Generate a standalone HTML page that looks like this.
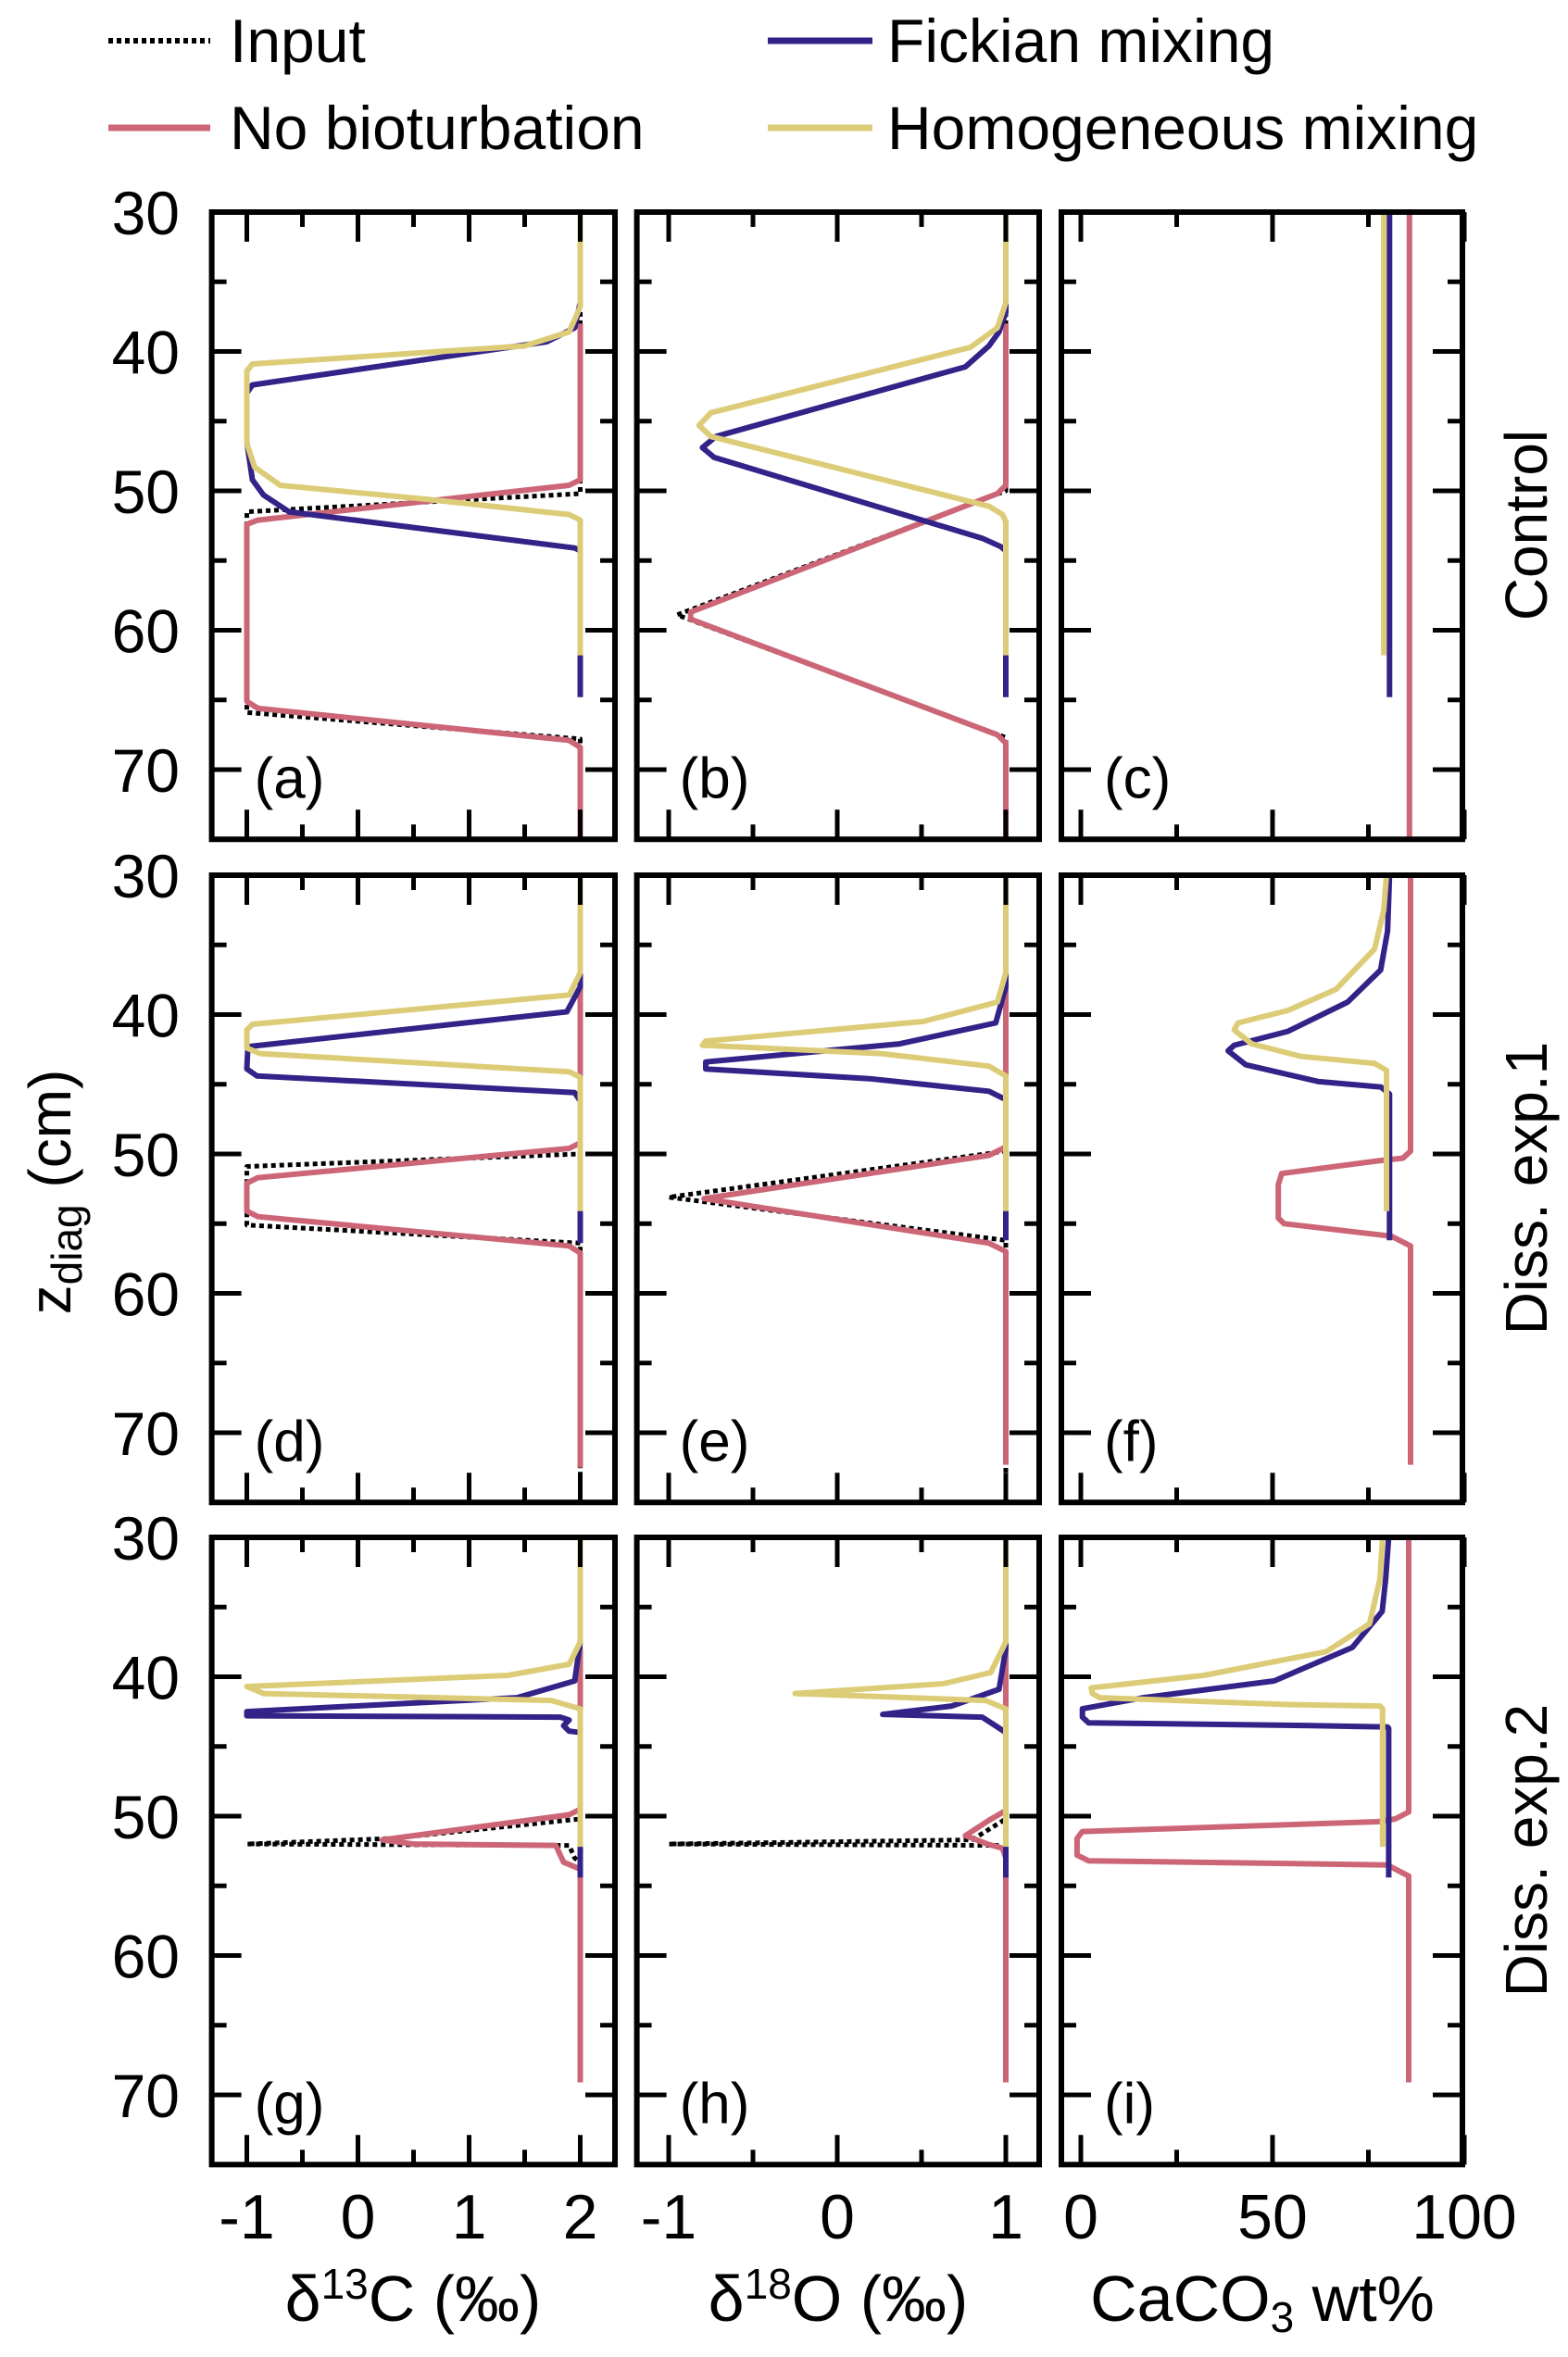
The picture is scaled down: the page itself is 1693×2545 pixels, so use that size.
<!DOCTYPE html>
<html><head><meta charset="utf-8">
<style>
html,body{margin:0;padding:0;background:#fff;}
svg{display:block;font-family:"Liberation Sans",Arial,sans-serif;}
</style></head>
<body>
<svg id="fig" width="1693" height="2545" viewBox="0 0 1693 2545" xmlns="http://www.w3.org/2000/svg">
<g font-size="66">
  <g>
    <line x1="117" y1="44" x2="227" y2="44" stroke="#000" stroke-width="6" stroke-dasharray="5 4"/>
    <text x="248" y="67">Input</text>
  </g>
  <g>
    <line x1="117" y1="138" x2="227" y2="138" stroke="#CC6677" stroke-width="7"/>
    <text x="248" y="161">No bioturbation</text>
  </g>
  <g>
    <line x1="829" y1="44" x2="942" y2="44" stroke="#332288" stroke-width="7"/>
    <text x="958" y="67">Fickian mixing</text>
  </g>
  <g>
    <line x1="829" y1="138" x2="942" y2="138" stroke="#DDCC77" stroke-width="7"/>
    <text x="958" y="161">Homogeneous mixing</text>
  </g>
</g>
<text transform="translate(76,1287) rotate(-90)" text-anchor="middle" font-size="64">z<tspan font-size="46" dy="12">diag</tspan><tspan dy="-12"> (cm)</tspan></text>
<text x="446" y="2506" text-anchor="middle" font-size="70">δ<tspan font-size="46" dy="-24">13</tspan><tspan dy="24">C (‰)</tspan></text>
<text x="905" y="2506" text-anchor="middle" font-size="70">δ<tspan font-size="46" dy="-24">18</tspan><tspan dy="24">O (‰)</tspan></text>
<text x="1363" y="2506" text-anchor="middle" font-size="70">CaCO<tspan font-size="46" dy="12">3</tspan><tspan dy="-12"> wt%</tspan></text>
<text transform="translate(1670,567) rotate(-90)" text-anchor="middle" font-size="64">Control</text>
<text transform="translate(1670,1283) rotate(-90)" text-anchor="middle" font-size="64">Diss. exp.1</text>
<text transform="translate(1670,1998) rotate(-90)" text-anchor="middle" font-size="64">Diss. exp.2</text>
<g id="panels"></g>
</svg>
<script>
// ---- data: [value, depth cm] ----
const aInput=[[2,30],[2,50.2],[-1,51.5],[-1,65.9],[2,67.8],[2,75]];
const aNoBio=[[2,38],[2,49.2],[1.9,49.6],[-0.9,52.1],[-1,52.4],[-1,65.1],[-0.9,65.6],[1.9,67.9],[2,68.4],[2,75]];
const aFick=[[2,30],[2,36.5],[1.95,38.3],[1.7,39.3],[-0.95,42.4],[-1,43],[-1,46.5],[-0.95,49.2],[-0.85,50.3],[-0.62,51.5],[1.95,54.1],[2,54.3],[2,64.8]];
const aHomo=[[2,30],[2,36.8],[1.9,38.6],[1.5,39.6],[-0.95,40.9],[-1,41.4],[-1,46.6],[-0.93,48.3],[-0.7,49.6],[0.61,50.6],[1.9,51.7],[2,52.1],[2,61.8]];

const bInput=[[1,30],[1,50.0],[-0.95,58.9],[1,67.7],[1,75]];
const bNoBio=[[1,38],[1,49.6],[0.95,50.2],[-0.87,58.7],[-0.87,59.2],[0.95,67.5],[1,68.1],[1,75]];
const bFick=[[1,30],[1,37.2],[0.96,38.6],[0.9,39.6],[0.76,41.1],[-0.72,46.1],[-0.8,46.9],[-0.73,47.6],[0.86,53.4],[0.97,54.0],[1,54.3],[1,64.8]];
const bHomo=[[1,30],[1,36.5],[0.95,38.3],[0.79,39.7],[-0.75,44.4],[-0.82,45.3],[-0.75,46.1],[0.9,51.1],[0.98,51.7],[1,52.2],[1,61.8]];

const cNoBio=[[85.7,30],[85.7,75]];
const cFick=[[80.5,30],[80.5,64.8]];
const cHomo=[[79,30],[79,61.8]];

const dInput=[[2,30],[2,50.0],[-1,50.9],[-1,55.1],[2,56.4],[2,75]];
const dNoBio=[[2,38],[2,49.2],[1.9,49.6],[-0.9,51.7],[-1,52.1],[-1,54.1],[-0.9,54.5],[1.9,56.6],[2,57.1],[2,72.5]];
const dFick=[[2,30],[2,38],[1.88,39.8],[-0.99,42.3],[-1,43.9],[-0.91,44.4],[1.95,45.6],[2,46.2],[2,56.4]];
const dHomo=[[2,30],[2,37],[1.9,38.6],[-0.95,40.7],[-1,41.1],[-1,42.4],[-0.88,42.8],[1.9,44.1],[2,44.5],[2,54.1]];

const eInput=[[1,30],[1,49.8],[-1.0,53.1],[1,56.2],[1,75]];
const eNoBio=[[1,38],[1,49.5],[0.9,50.1],[-0.79,53.2],[0.9,56.4],[1,57.0],[1,72.3]];
const eFick=[[1,30],[1,38],[0.94,40.6],[0.37,42.1],[-0.78,43.4],[-0.78,43.9],[0.19,44.6],[0.9,45.5],[1,46.1],[1,56.2]];
const eHomo=[[1,30],[1,37],[0.95,39.1],[0.51,40.5],[-0.78,41.9],[-0.8,42.2],[0.26,42.8],[0.9,43.7],[1,44.4],[1,54.1]];

const fNoBio=[[86,30],[86,49.8],[84,50.3],[77.4,50.5],[52.4,51.4],[51.5,52.2],[51.5,54.6],[53,55],[81,55.9],[86,56.6],[86,72.3]];
const fFick=[[80.5,30],[80,34],[78.2,36.8],[69.6,39.1],[54,41.2],[40,42.2],[38.4,42.6],[43,43.6],[61.8,44.8],[78.3,45.2],[80.5,45.7],[80.5,56.2]];
const fHomo=[[79.7,30],[79,32.5],[76.6,35.3],[66.5,38.2],[54,39.7],[41,40.6],[40,41.1],[44.6,42.1],[57.5,43.0],[76.6,43.5],[79.7,44.0],[79.7,54.1]];

const gInput=[[2,30],[2,50.2],[0.3,51.6],[-1,52.0],[1.9,52.1],[1.95,53.0],[2,53.3],[2,69]];
const gNoBio=[[2,38],[2,49.5],[1.9,49.9],[0.22,51.7],[0.5,52.0],[1.78,52.1],[1.85,53.3],[2,53.8],[2,69.1]];
const gFick=[[2,30],[2,37.5],[1.95,40.3],[1.43,41.5],[-1,42.5],[-1,42.8],[1.82,42.9],[1.9,43.1],[1.85,43.5],[1.9,43.9],[2,44],[2,54.4]];
const gHomo=[[2,30],[2,37.5],[1.9,39.1],[1.35,39.9],[-1,40.7],[-0.85,41.2],[1.74,41.7],[2,42.3],[2,52.2]];

const hInput=[[1,30],[1,50.2],[0.8,51.7],[-1,52.0],[0.96,52.1],[1,52.3],[1,69]];
const hNoBio=[[1,38],[1,49.6],[0.9,50.3],[0.76,51.4],[0.89,52.0],[0.98,52.3],[1,53],[1,69.1]];
const hFick=[[1,30],[1,38],[0.96,40.9],[0.68,42.1],[0.27,42.7],[0.86,42.9],[0.95,43.6],[1,44],[1,54.4]];
const hHomo=[[1,30],[1,37.5],[0.91,39.7],[0.63,40.5],[-0.25,41.2],[0.88,41.7],[1,42.3],[1,52.2]];

const iNoBio=[[85.5,30],[85.5,49.7],[82,50.2],[77.5,50.4],[0.4,51.1],[-1,51.6],[-1,52.8],[2,53.2],[79.9,53.5],[85.5,54.3],[85.5,69.1]];
const iFick=[[80.3,30],[79.5,33],[78.6,35.3],[70.8,37.9],[50.4,40.3],[16.3,41.5],[0.4,42.3],[0.4,42.9],[2,43.3],[60,43.5],[80,43.6],[80.3,43.7],[80.3,54.4]];
const iHomo=[[78.7,30],[78,33],[75.3,36.2],[64,38.2],[32.1,39.9],[2.7,40.8],[3,41.2],[5,41.5],[54.8,42.0],[78,42.1],[78.7,42.3],[78.7,52.2]];

// ---- tick labels ----
const yTickLabels=["30","40","50","60","70"];
const col0Ticks=["-1","0","1","2"];
const col1Ticks=["-1","0","1"];
const col2Ticks=["0","50","100"];

// ---- layout ----
const NS="http://www.w3.org/2000/svg";
const cols=[
 {left:228.6,right:664,x0:266.5,x1:-1,scale:120,major:[-1,0,1,2],minor:[-0.5,0.5,1.5],labels:col0Ticks},
 {left:687.6,right:1122,x0:904,x1:0,scale:182,major:[-1,0,1],minor:[-0.5,0.5],labels:col1Ticks},
 {left:1146,right:1579,x0:1167,x1:0,scale:4.14,major:[0,50,100],minor:[25,75],labels:col2Ticks}
];
const rowTops=[229,945,1660];
const PXCM=15.05;
const panelData=[
 [[aInput,aNoBio,aFick,aHomo],[bInput,bNoBio,bFick,bHomo],[null,cNoBio,cFick,cHomo]],
 [[dInput,dNoBio,dFick,dHomo],[eInput,eNoBio,eFick,eHomo],[null,fNoBio,fFick,fHomo]],
 [[gInput,gNoBio,gFick,gHomo],[hInput,hNoBio,hFick,hHomo],[null,iNoBio,iFick,iHomo]]
];
const letters=[["a","b","c"],["d","e","f"],["g","h","i"]];
const styles=[
 {stroke:"#000",w:5,dash:"5 4",name:"input-line"},
 {stroke:"#CC6677",w:6,dash:null,name:"no-bioturbation-line"},
 {stroke:"#332288",w:6,dash:null,name:"fickian-line"},
 {stroke:"#DDCC77",w:6,dash:null,name:"homogeneous-line"}
];
function mk(tag,attrs,parent){const e=document.createElementNS(NS,tag);for(const k in attrs)e.setAttribute(k,attrs[k]);parent.appendChild(e);return e;}
const root=document.getElementById('panels');
const defs=mk('defs',{},root);

for(let r=0;r<3;r++){
 const top=rowTops[r], bottom=top+45*PXCM;
 const yOf=z=>top+(z-30)*PXCM;
 for(let c=0;c<3;c++){
  const col=cols[c];
  const xOf=v=>col.x0+(v-col.x1)*col.scale;
  const g=mk('g',{},root);
  
  
  const cid='clip'+r+c;
  const cp=mk('clipPath',{id:cid},defs);
  mk('rect',{x:col.left,y:top,width:col.right-col.left,height:bottom-top},cp);
  const lines=mk('g',{'clip-path':'url(#'+cid+')'},g);
  panelData[r][c].forEach((ser,si)=>{
   if(!ser)return;
   const st=styles[si];
   const d=ser.map((p,i)=>(i?'L':'M')+xOf(p[0]).toFixed(1)+' '+yOf(p[1]).toFixed(1)).join(' ');
   const p=mk('path',{d:d,fill:'none',stroke:st.stroke,'stroke-width':st.w,'stroke-linejoin':'round'},lines);
   if(st.dash)p.setAttribute('stroke-dasharray',st.dash);
   
   
  });
  const tk=mk('g',{stroke:'#000','stroke-width':5},g);
  
  
  [40,50,60,70].forEach(z=>{const y=yOf(z);mk('line',{x1:col.left,x2:col.left+32,y1:y,y2:y},tk);mk('line',{x1:col.right,x2:col.right-32,y1:y,y2:y},tk);});
  [35,45,55,65].forEach(z=>{const y=yOf(z);mk('line',{x1:col.left,x2:col.left+16,y1:y,y2:y},tk);mk('line',{x1:col.right,x2:col.right-16,y1:y,y2:y},tk);});
  col.major.forEach(v=>{const x=xOf(v);mk('line',{x1:x,x2:x,y1:top,y2:top+32},tk);mk('line',{x1:x,x2:x,y1:bottom,y2:bottom-32},tk);});
  col.minor.forEach(v=>{const x=xOf(v);mk('line',{x1:x,x2:x,y1:top,y2:top+16},tk);mk('line',{x1:x,x2:x,y1:bottom,y2:bottom-16},tk);});
  const fr=mk('rect',{x:col.left,y:top,width:col.right-col.left,height:bottom-top,fill:'none',stroke:'#000','stroke-width':6},g);
  
  
  const lt=mk('text',{x:col.left+46,y:yOf(70.5)+23,'font-size':62},g);
  lt.textContent='('+letters[r][c]+')';
  
  
  if(c===0){
   yTickLabels.forEach(s=>{const t=mk('text',{x:194,y:yOf(+s)+24,'text-anchor':'end','font-size':66},g);t.textContent=s;
    
    });
  }
  if(r===2){
   col.labels.forEach(s=>{const t=mk('text',{x:xOf(+s),y:2417,'text-anchor':'middle','font-size':68},g);t.textContent=s;
    
    });
  }
 }
}
</script>
</body></html>
